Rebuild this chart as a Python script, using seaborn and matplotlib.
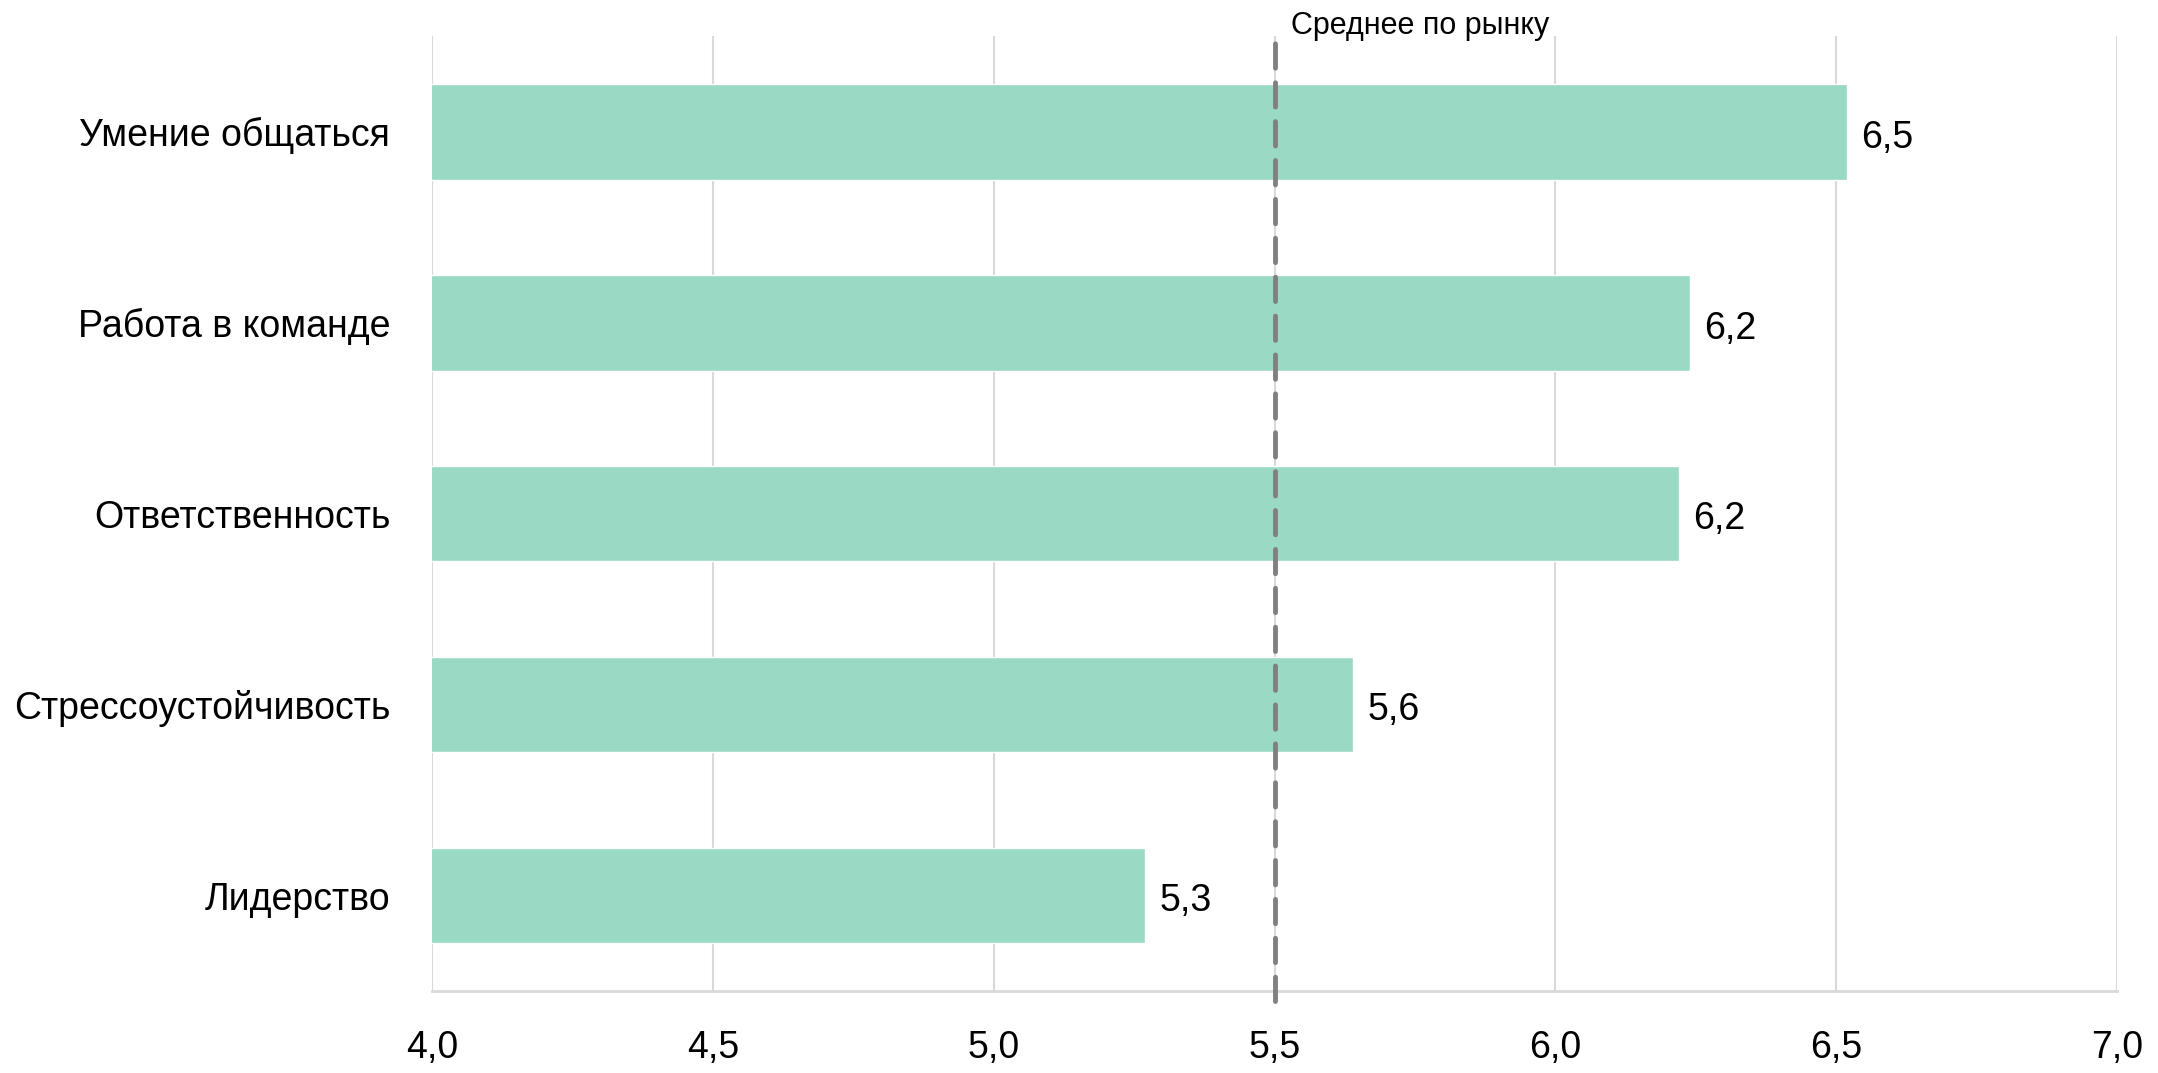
import pandas as pd
import matplotlib
matplotlib.use('Agg')
import matplotlib.pyplot as plt
import seaborn as sns

# данные с графика
skills = ['Умение общаться', 'Работа в команде', 'Ответственность',
          'Стрессоустойчивость', 'Лидерство']
scores = [6.52, 6.24, 6.22, 5.64, 5.27]
market_avg = 5.5
x_ticks = [4.0, 4.5, 5.0, 5.5, 6.0, 6.5, 7.0]
x_tick_labels = ['4,0', '4,5', '5,0', '5,5', '6,0', '6,5', '7,0']

sns.set_theme(style='white')
plt.rcParams['font.family'] = ['Liberation Sans', 'DejaVu Sans']

df = pd.DataFrame({'skill': skills, 'score': scores})

fig = plt.figure(figsize=(21.58, 10.73), dpi=100)
ax = fig.add_axes([0.2002, 0.0764, 0.981 - 0.2002, 0.966 - 0.0764])

sns.barplot(data=df, x='score', y='skill', orient='h', color='#9AD9C4',
            saturation=1, width=0.5, ax=ax, zorder=2)

ax.set_xlim(4.0, 7.0)
ax.set_ylim(4.5, -0.5)
ax.set_xticks(x_ticks)
ax.set_xticklabels(x_tick_labels, fontsize=27, color='black')
ax.tick_params(axis='y', labelsize=27, labelcolor='black', pad=30, length=0)
ax.tick_params(axis='x', pad=28, length=0)
ax.set_xlabel('')
ax.set_ylabel('')

ax.grid(axis='x', color='#d9d9d9', linewidth=1.5, zorder=0)
for side in ['top', 'right', 'left']:
    ax.spines[side].set_visible(False)
ax.spines['bottom'].set_color('#d9d9d9')
ax.spines['bottom'].set_linewidth(2)

# подписи значений
for i, v in enumerate(scores):
    ax.text(v + 0.025, i + 0.03, f'{v:.1f}'.replace('.', ','), va='center', ha='left',
            fontsize=27, color='black')

# среднее по рынку
ax.axvline(market_avg, ymin=-0.01, ymax=0.997, color='#808080', linewidth=3.5,
           linestyle=(0, (5, 3)), dash_capstyle='round', zorder=3, clip_on=False)
ax.text(market_avg + 0.03, -0.475, 'Среднее по рынку', fontsize=22,
        va='bottom', ha='left', color='black')

fig.savefig('out.png', dpi=100, facecolor='white')
